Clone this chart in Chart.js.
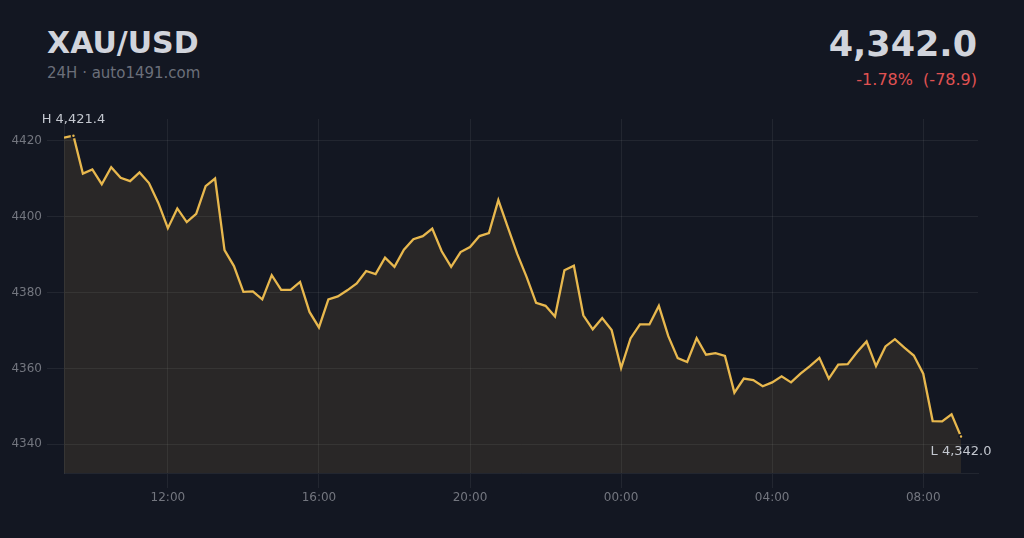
<!DOCTYPE html>
<html>
<head>
<meta charset="utf-8">
<script src="https://cdn.jsdelivr.net/npm/chart.js@4/dist/chart.umd.min.js"></script>
<style>
  html, body { margin: 0; padding: 0; background: #131722; }
  body { width: 1024px; height: 538px; position: relative; overflow: hidden; font-family: "DejaVu Sans", sans-serif; }
  #chart { position: absolute; left: 0; top: 0; }
  .hd { position: absolute; line-height: 1; white-space: pre; }
  #symbol { left: 47px; top: 28px; font-size: 30px; font-weight: bold; color: #d1d4dc; }
  #sub { left: 47px; top: 66px; font-size: 15px; color: #6b6f7a; }
  #price { right: 47px; top: 27px; font-size: 35px; font-weight: bold; color: #d1d4dc; }
  #change { right: 47px; top: 72px; font-size: 16px; color: #e05252; }
</style>
</head>
<body>
<div class="hd" id="symbol">XAU/USD</div>
<div class="hd" id="sub">24H · auto1491.com</div>
<div class="hd" id="price">4,342.0</div>
<div class="hd" id="change">-1.78%  (-78.9)</div>
<canvas id="chart" width="1024" height="538"></canvas>
<script>
// 15-minute closes, 09:15 -> 09:00 next day
const startTime = '09:15';
const stepMinutes = 15;
const prices = [
  4420.9, 4421.4, 4411.4, 4412.5, 4408.6, 4413.1, 4410.3, 4409.4, 4411.7, 4408.9,
  4403.6, 4397.0, 4402.2, 4398.6, 4400.8, 4408.1, 4410.1, 4391.2, 4387.0, 4380.2,
  4380.3, 4378.2, 4384.6, 4380.7, 4380.7, 4382.8, 4374.9, 4370.8, 4378.2, 4379.0,
  4380.6, 4382.4, 4385.7, 4384.9, 4389.2, 4386.8, 4391.3, 4394.1, 4394.9, 4396.9,
  4390.9, 4386.8, 4390.7, 4392.0, 4394.9, 4395.7, 4404.4, 4397.3, 4390.2, 4384.1,
  4377.3, 4376.5, 4373.7, 4385.9, 4387.1, 4374.0, 4370.3, 4373.3, 4370.1, 4360.1,
  4367.9, 4371.6, 4371.6, 4376.5, 4368.5, 4362.7, 4361.7, 4368.0, 4363.6, 4364.0,
  4363.3, 4353.6, 4357.3, 4356.9, 4355.3, 4356.3, 4357.9, 4356.3, 4358.6, 4360.6,
  4362.8, 4357.3, 4361.0, 4361.1, 4364.3, 4367.1, 4360.6, 4365.8, 4367.7, 4365.5,
  4363.4, 4358.6, 4346.1, 4346.0, 4347.9, 4342.0
];
const xTickLabels = ['12:00', '16:00', '20:00', '00:00', '04:00', '08:00'];
const yTickValues = [4340, 4360, 4380, 4400, 4420];

const BG = '#131722';
const GOLD = '#e8b84e';
const GRID = 'rgba(255,255,255,0.065)';

const toMin = (t) => { const [h, m] = t.split(':').map(Number); return h * 60 + m; };
const offsetOf = (t) => (toMin(t) - toMin(startTime) + 1440) % 1440;
const fmtTime = (off) => {
  const m = (toMin(startTime) + off) % 1440;
  return String(Math.floor(m / 60)).padStart(2, '0') + ':' + String(m % 60).padStart(2, '0');
};

const points = prices.map((p, i) => ({ x: i * stepMinutes, y: p }));
const hiIdx = prices.indexOf(Math.max(...prices));
const loIdx = prices.lastIndexOf(Math.min(...prices));
const fmtPrice = (v) => v.toLocaleString('en-US', { minimumFractionDigits: 1, maximumFractionDigits: 1 });

// H / L labels next to the extreme points
const hiLoLabels = {
  id: 'hiLoLabels',
  afterDatasetsDraw(chart) {
    const { ctx, scales: { x, y } } = chart;
    ctx.save();
    ctx.font = '13px "DejaVu Sans"';
    ctx.fillStyle = '#c3c7cf';
    ctx.textAlign = 'center';
    ctx.textBaseline = 'middle';
    ctx.fillText('H ' + fmtPrice(prices[hiIdx]), x.getPixelForValue(points[hiIdx].x), y.getPixelForValue(prices[hiIdx]) - 16);
    ctx.fillText('L ' + fmtPrice(prices[loIdx]), x.getPixelForValue(points[loIdx].x), y.getPixelForValue(prices[loIdx]) + 15);
    ctx.restore();
  }
};

new Chart(document.getElementById('chart'), {
  type: 'line',
  data: {
    datasets: [{
      data: points,
      borderColor: GOLD,
      borderWidth: 2.3,
      backgroundColor: 'rgba(232,186,84,0.1)',
      fill: 'start',
      tension: 0,
      pointRadius: prices.map((_, i) => (i === hiIdx || i === loIdx) ? 2 : 0),
      pointBackgroundColor: GOLD,
      pointBorderColor: BG,
      pointBorderWidth: 1.5,
      pointHoverRadius: 0
    }]
  },
  options: {
    responsive: false,
    animation: false,
    events: [],
    layout: { padding: { left: 0, top: 119, right: 46, bottom: 0 } },
    plugins: { legend: { display: false }, tooltip: { enabled: false } },
    scales: {
      x: {
        type: 'linear',
        min: 0,
        max: (prices.length - 1) * stepMinutes + 27,
        afterBuildTicks: (s) => { s.ticks = xTickLabels.map(t => ({ value: offsetOf(t) })); },
        afterFit: (s) => { s.height = 65; },
        ticks: {
          color: '#73767f',
          font: { family: 'DejaVu Sans', size: 12 },
          padding: 3,
          maxRotation: 0,
          callback: (v) => fmtTime(v)
        },
        grid: { color: GRID, tickLength: 15 },
        border: { color: GRID }
      },
      y: {
        min: 4332.4,
        max: 4425.8,
        afterBuildTicks: (s) => { s.ticks = yTickValues.map(v => ({ value: v })); },
        afterFit: (s) => { s.width = 64; },
        ticks: {
          color: '#73767f',
          font: { family: 'DejaVu Sans', size: 12 },
          padding: 5,
          callback: (v) => String(v)
        },
        grid: { color: GRID, tickLength: 17 },
        border: { color: GRID }
      }
    }
  },
  plugins: [hiLoLabels]
});
</script>
</body>
</html>
